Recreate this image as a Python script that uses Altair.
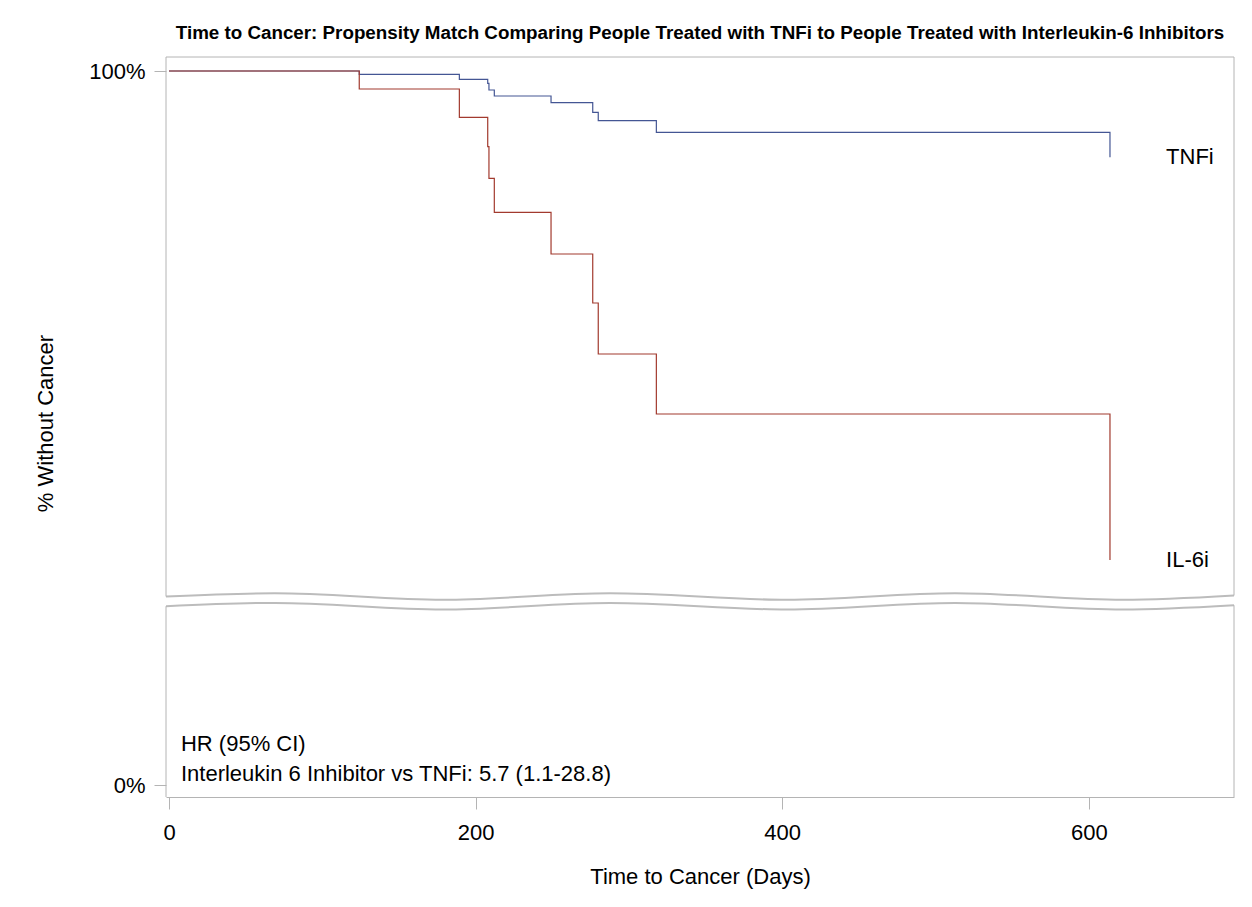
import altair as alt
import pandas as pd

# ---------------- data ----------------
days = [0, 124.1, 189.4, 207.9, 208.7, 212.2, 249.2, 276.4, 280.0, 317.9, 613.8]
tnfi_surv = [1.0, 0.99967, 0.99917, 0.99877, 0.9981, 0.9975, 0.99683, 0.99587, 0.99503, 0.99387, 0.99137]
il6i_surv = [1.0, 0.9982, 0.99537, 0.99243, 0.98927, 0.98587, 0.9817, 0.9768, 0.9717, 0.9657, 0.9511]
groups = ["TNFi", "IL-6i"]
group_colors = ["#445694", "#A23A2E"]
x_ticks = [0, 200, 400, 600]
title_text = ("Time to Cancer: Propensity Match Comparing People Treated with TNFi "
              "to People Treated with Interleukin-6 Inhibitors")
hr_lines = ["HR (95% CI)", "Interleukin 6 Inhibitor vs TNFi: 5.7 (1.1-28.8)"]
hr_y = [0.0041, 0.0011]          # placed in the lower (0%) segment

# ---------------- broken-axis geometry (display units) ----------------
X_MIN, X_MAX = -1.96, 694.7
D_MAX = 740                       # display range of the y scale
UP_ZERO = 726                     # display position of 100 %
LO_ZERO = 12                      # display position of 0 %
K = 10000                         # display units per unit of survival
W, H = 1068, 740

wave_days = [X_MIN, 69.1, 178.7, 287.7, 403.1, 512.7, 622.3, X_MAX]
wave_shape = [0, 1, -1, 1, -1, 1, -1, 0.3]
WAVE_AMP = 3.3
UP_WAVE_MID = 200.5
LO_WAVE_MID = 190.8

FRAME = "#b4b4b4"
WAVE = "#bcbcbc"
FONT = "Liberation Sans"

xs = alt.Scale(domain=[X_MIN, X_MAX], nice=False, zero=False)
ys = alt.Scale(domain=[0, D_MAX], nice=False, zero=False)

up_expr = f"{UP_ZERO} - (1 - datum.surv) * {K}"
lo_expr = f"{LO_ZERO} + datum.surv * {K}"

y_axis = alt.Axis(values=[LO_ZERO, UP_ZERO],
                  labelExpr=f"datum.value > {D_MAX / 2} ? '100%' : '0%'",
                  tickSize=12, labelPadding=9, domain=False, grid=False,
                  title="% Without Cancer", titleX=-121, titleY=366,
                  titleAngle=270, titleBaseline="middle", titleAlign="center")
x_axis = alt.Axis(values=x_ticks, format="d", tickSize=12, labelPadding=13, domain=True,
                  grid=False, title="Time to Cancer (Days)", titlePadding=23)

X = alt.X("day:Q", scale=xs, axis=x_axis)
Y = alt.Y("disp:Q", scale=ys, axis=y_axis)

# ---------------- KM curves ----------------
km = pd.DataFrame({
    "day": days * 2,
    "surv": tnfi_surv + il6i_surv,
    "group": [groups[0]] * len(days) + [groups[1]] * len(days),
})

line_blue = alt.Chart(km).transform_filter(f"datum.group == '{groups[0]}'").transform_calculate(
    disp=up_expr).mark_line(interpolate="step-after", color=group_colors[0],
                            strokeWidth=1.2).encode(x=X, y=Y)
line_red = alt.Chart(km).transform_filter(f"datum.group == '{groups[1]}'").transform_calculate(
    disp=up_expr).mark_line(interpolate="step-after", color=group_colors[1],
                            strokeWidth=1.2).encode(x=X, y=Y)

lab_df = pd.DataFrame({"day": [650.4, 650.4], "surv": [tnfi_surv[-1], il6i_surv[-1]],
                       "txt": groups})
group_labels = alt.Chart(lab_df).transform_calculate(disp=up_expr).mark_text(
    align="left", baseline="middle", fontSize=22, font=FONT, color="black").encode(
    x=X, y=Y, text="txt:N")

hr_df = pd.DataFrame({"day": [7.8, 7.8], "surv": hr_y, "txt": hr_lines})
hr_text = alt.Chart(hr_df).transform_calculate(disp=lo_expr).mark_text(
    align="left", baseline="middle", fontSize=22, font=FONT, color="black").encode(
    x=X, y=Y, text="txt:N")

# ---------------- axis-break decoration ----------------
wave_df = pd.DataFrame({
    "day": wave_days * 2,
    "disp": [UP_WAVE_MID + s * WAVE_AMP for s in wave_shape]
            + [LO_WAVE_MID + s * WAVE_AMP for s in wave_shape],
    "part": ["upper"] * len(wave_days) + ["lower"] * len(wave_days),
})
waves = alt.Chart(wave_df).mark_line(interpolate="monotone", color=WAVE,
                                     strokeWidth=2).encode(x=X, y=Y, detail="part:N")

up_l, up_r = UP_WAVE_MID, UP_WAVE_MID + wave_shape[-1] * WAVE_AMP
lo_l, lo_r = LO_WAVE_MID, LO_WAVE_MID + wave_shape[-1] * WAVE_AMP
frame_df = pd.DataFrame({
    "day":   [X_MIN, X_MIN, X_MAX, X_MIN, X_MAX],
    "day2":  [X_MAX, X_MIN, X_MAX, X_MIN, X_MAX],
    "disp":  [D_MAX, up_l, up_r, 0, 0],
    "disp2": [D_MAX, D_MAX, D_MAX, lo_l, lo_r],
})
frame = alt.Chart(frame_df).mark_rule(color=FRAME, strokeWidth=1).encode(
    x=X, x2="day2:Q", y=Y, y2="disp2:Q")

chart = alt.layer(waves, frame, line_blue, line_red, group_labels, hr_text).properties(
    width=W, height=H,
    padding={"left": 26, "top": 15, "right": 5, "bottom": 5},
    title=alt.TitleParams(text=title_text, fontSize=18.8, fontWeight="bold", font=FONT,
                          anchor="middle", frame="group", offset=14, color="black"),
).configure_view(strokeWidth=0).configure_axis(
    labelFont=FONT, titleFont=FONT, labelFontSize=22, titleFontSize=22,
    labelColor="black", titleColor="black", tickColor=FRAME, domainColor=FRAME,
    titleFontWeight="normal"
)

chart.save("out.html", embed_options={"renderer": "svg", "actions": False})
